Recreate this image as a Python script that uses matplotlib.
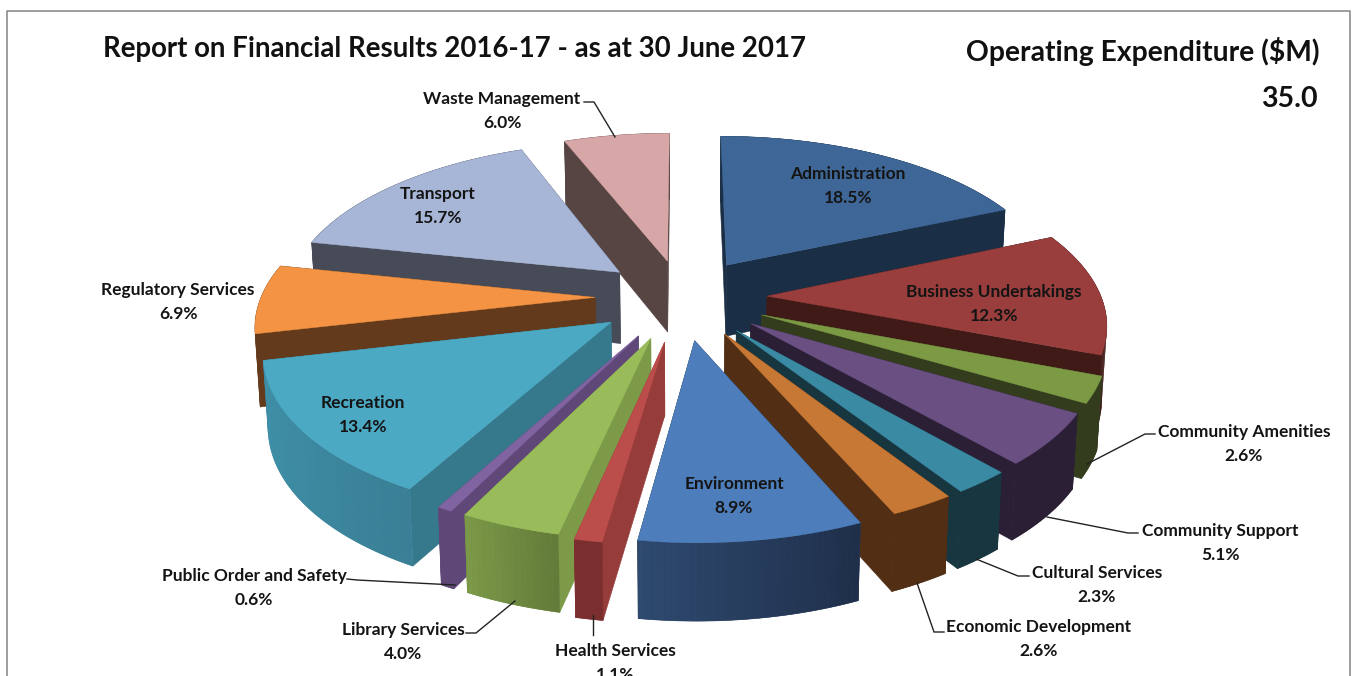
import numpy as np
import matplotlib
matplotlib.use('Agg')
import matplotlib.pyplot as plt
from matplotlib.patches import Polygon

plt.rcParams['font.family'] = ['Lato', 'DejaVu Sans']

categories = ['Administration', 'Business Undertakings', 'Community Amenities', 'Community Support',
              'Cultural Services', 'Economic Development', 'Environment', 'Health Services',
              'Library Services', 'Public Order and Safety', 'Recreation', 'Regulatory Services',
              'Transport', 'Waste Management']
shares = [18.5, 12.3, 2.6, 5.1, 2.3, 2.6, 8.9, 1.1, 4.0, 0.6, 13.4, 6.9, 15.7, 6.0]
title = 'Report on Financial Results 2016-17 - as at 30 June 2017'
measure = 'Operating Expenditure ($M)'
total = '35.0'

# styles per slice
explode = [.25, .255, .26, .26, .26, .26, .27, .28, .27, .27, .26, .26, .25, .24]
top_col = ['#3E6797', '#993E3C', '#7C9A44', '#694F82', '#3A8AA3', '#C77835', '#4D7EBB',
           '#BB4D4A', '#9ABB59', '#8064A2', '#4BA9C3', '#F39343', '#A7B6D6', '#D7A6A6']
rim_a = ['#1A2E45', '#401A17', '#333C1C', '#2A1F35', '#173640', '#512E14', '#1F2F4A',
         '#7B2E2E', '#637C3A', '#5F4878', '#3A7F96', '#643A1C', '#464B57', '#574544']
rim_b = ['#1A2E45', '#401A17', '#333C1C', '#2A1F35', '#173640', '#512E14', '#2E4A6F',
         '#7B2E2E', '#7B9948', '#5F4878', '#3F93AB', '#643A1C', '#464B57', '#574544']
cut_col = ['#1A2E45', '#401A17', '#333C1C', '#2A1F35', '#173640', '#512E14', '#1F2F4A',
           '#963C3A', '#7C9A48', '#5F4878', '#36798D', '#643A1C', '#464B57', '#574544']
order = [0, 13, 12, 11, 1, 2, 3, 4, 5, 10, 9, 8, 7, 6]

label_pos = [(848, 186), (994, 304), (1244, 444), (1220, 543), (1097, 585), (1039, 639), (734, 496),
             (615, 663), (403, 642), (254, 588), (363, 415), (178, 302), (438, 206), (502, 111)]
leaders = {2: [(1155, 434), (1145, 434), (1087, 464)],
           3: [(1138, 533), (1128, 533), (1047, 517)],
           4: [(1029, 576), (1018, 576), (976, 559)],
           5: [(944, 632), (934, 632), (917, 583)],
           7: [(593, 635), (593, 615)],
           8: [(466, 633), (476, 633), (515, 601)],
           9: [(347, 579), (357, 580), (455, 585)],
           13: [(584, 102), (594, 102), (615, 137)]}

CX, CY, A, B, P, DEPTH = 682, 297, 334, 157, .15, 72


def project(x, f):
    w = 1 - P * f
    return CX + A * x / w, CY + B * f / w


def lower(sx, sy, f):
    # bottom edge of the slice, a bit deeper towards the viewer
    return sx + (CX - sx) * .012, sy + DEPTH * (1 + .07 * f)


def mix(c1, c2, t):
    a = np.array(matplotlib.colors.to_rgb(c1))
    b = np.array(matplotlib.colors.to_rgb(c2))
    return a + (b - a) * t


fig = plt.figure(figsize=(13.58, 6.76), dpi=100)
ax = fig.add_axes([0, 0, 1, 1])
ax.set_xlim(0, 1358)
ax.set_ylim(676, 0)
ax.axis('off')

# frame of the sheet
ax.plot([6.5, 6.5, 1350, 1350], [676, 11, 11, 676], color='#8c8c8c', lw=1.2, zorder=1)

edges = np.cumsum([0] + shares) / sum(shares) * 2 * np.pi
z = 2
for i in order:
    mid = (edges[i] + edges[i + 1]) / 2
    x0, f0 = explode[i] * np.sin(mid), -explode[i] * np.cos(mid)
    th = np.linspace(edges[i], edges[i + 1], max(6, int(shares[i] * 4)))
    xs = x0 + np.sin(th)
    fs = f0 - np.cos(th)
    sx, sy = project(xs, fs)
    bx, by = lower(sx, sy, fs)
    ax0, ay0 = project(x0, f0)
    bx0, by0 = lower(ax0, ay0, f0)

    # cut faces
    for k in (0, -1):
        ax.add_patch(Polygon([(ax0, ay0), (sx[k], sy[k]), (bx[k], by[k]), (bx0, by0)],
                             fc=cut_col[i], ec=cut_col[i], lw=.4, zorder=z))
    z += 1
    # outer wall, base colour first so no seams show between the bands
    base = mix(rim_a[i], rim_b[i], .5)
    ax.add_patch(Polygon(np.column_stack([np.r_[sx, bx[::-1]], np.r_[sy, by[::-1]]]),
                         fc=base, ec=base, lw=.4, zorder=z))
    z += 1
    for k in range(len(th) - 1):
        col = mix(rim_a[i], rim_b[i], k / max(1, len(th) - 2))
        ax.add_patch(Polygon([(sx[k], sy[k]), (sx[k + 1], sy[k + 1]), (bx[k + 1], by[k + 1]), (bx[k], by[k])],
                             fc=col, ec='none', zorder=z))
    z += 1
    # top face
    ax.add_patch(Polygon(np.column_stack([np.r_[ax0, sx], np.r_[ay0, sy]]),
                         fc=top_col[i], ec=top_col[i], lw=.3, zorder=z))
    z += 1

for i, pts in leaders.items():
    ax.plot(*zip(*pts), color='#222222', lw=1, zorder=z)

for i, (name, val) in enumerate(zip(categories, shares)):
    lx, ly = label_pos[i]
    ax.text(lx, ly, f'{name}\n{val:.1f}%', ha='center', va='center', fontsize=12.5,
            fontweight='bold', color='#141414', linespacing=1.65, zorder=z + 1)

ax.text(103, 49, title, fontsize=19.9, fontweight='bold', color='#111111', va='center', ha='left')
ax.text(1319, 51, measure, fontsize=20.3, fontweight='bold', color='#111111', va='center', ha='right')
ax.text(1318, 99, total, fontsize=20.5, fontweight='bold', color='#111111', va='center', ha='right')

fig.savefig('out.png', dpi=100)
